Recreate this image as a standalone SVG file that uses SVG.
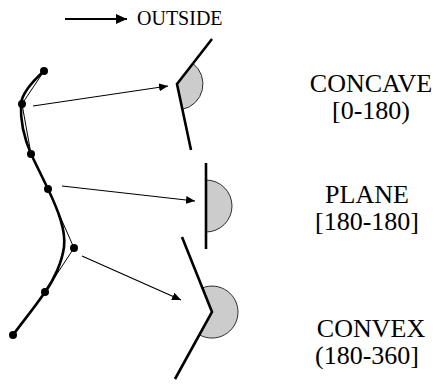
<svg xmlns="http://www.w3.org/2000/svg" width="440" height="385" viewBox="0 0 440 385">
<style>
.lbl{font-family:'Liberation Serif',serif;font-size:26px;fill:#000;text-anchor:middle}
.leg{font-family:'Liberation Serif',serif;font-size:20px;fill:#000}
.thick{fill:none;stroke:#000;stroke-width:2.6;stroke-linecap:butt;stroke-linejoin:miter}
.thin{fill:none;stroke:#000;stroke-width:1}
.wedge{fill:#cccccc;stroke:#000;stroke-width:0.8}
.conn{fill:none;stroke:#000;stroke-width:1.1}
.dot{fill:#000}
</style>
<defs>
<marker id="ah" markerUnits="userSpaceOnUse" markerWidth="10" markerHeight="8" refX="9" refY="4" orient="auto">
<path d="M0,0 L9,4 L0,8 z" fill="#000"/>
</marker>
<marker id="ahL" markerUnits="userSpaceOnUse" markerWidth="12" markerHeight="12" refX="11" refY="6" orient="auto">
<path d="M0,1 L11,6 L0,11 z" fill="#000"/>
</marker>
</defs>
<g id="legend">
<line x1="65" y1="19" x2="127" y2="19" stroke="#000" stroke-width="2.2" marker-end="url(#ahL)"/>
<text class="leg" x="137" y="25">OUTSIDE</text>
</g>
<g id="curve">
<polyline class="thin" points="44,71 22,104 31,154 48,189 74,248 45,292 13,335"/>
<path class="thick" d="M44,71 C34,80 22,92 21,104 C20,125 25,140 31,154 L48,189 C58,210 66,230 64,247 C62,262 54,280 45,292 C35,307 24,320 13,335"/>
<circle class="dot" cx="44" cy="71" r="4"/>
<circle class="dot" cx="22" cy="104" r="4"/>
<circle class="dot" cx="31" cy="154" r="4"/>
<circle class="dot" cx="48" cy="189" r="4"/>
<circle class="dot" cx="74" cy="248" r="4"/>
<circle class="dot" cx="45" cy="292" r="4"/>
<circle class="dot" cx="13" cy="335" r="4"/>
</g>
<g id="concave">
<path class="wedge" d="M177,84 L193,63.5 A26,26 0 0 1 182.4,109.4 Z"/>
<polyline class="thick" points="212,39 177,84 191,150"/>
</g>
<g id="plane">
<path class="wedge" d="M206,180 A26,26 0 0 1 206,232 Z"/>
<line class="thick" x1="206" y1="163" x2="206" y2="249"/>
</g>
<g id="convex">
<path class="wedge" d="M212,312 L202.4,287.9 A26,26 0 1 1 199.4,334.8 Z"/>
<polyline class="thick" points="182,237 212,312 175,379"/>
</g>
<g id="connectors">
<line class="conn" x1="33" y1="106" x2="168" y2="86" marker-end="url(#ah)"/>
<line class="conn" x1="62" y1="186" x2="195" y2="201" marker-end="url(#ah)"/>
<line class="conn" x1="82" y1="256" x2="181" y2="300" marker-end="url(#ah)"/>
</g>
<g id="labels">
<text class="lbl" x="371" y="92">CONCAVE</text>
<text class="lbl" x="371" y="119">[0-180)</text>
<text class="lbl" x="367" y="203">PLANE</text>
<text class="lbl" x="367" y="230">[180-180]</text>
<text class="lbl" x="371" y="337">CONVEX</text>
<text class="lbl" x="367" y="364">(180-360]</text>
</g>
</svg>
